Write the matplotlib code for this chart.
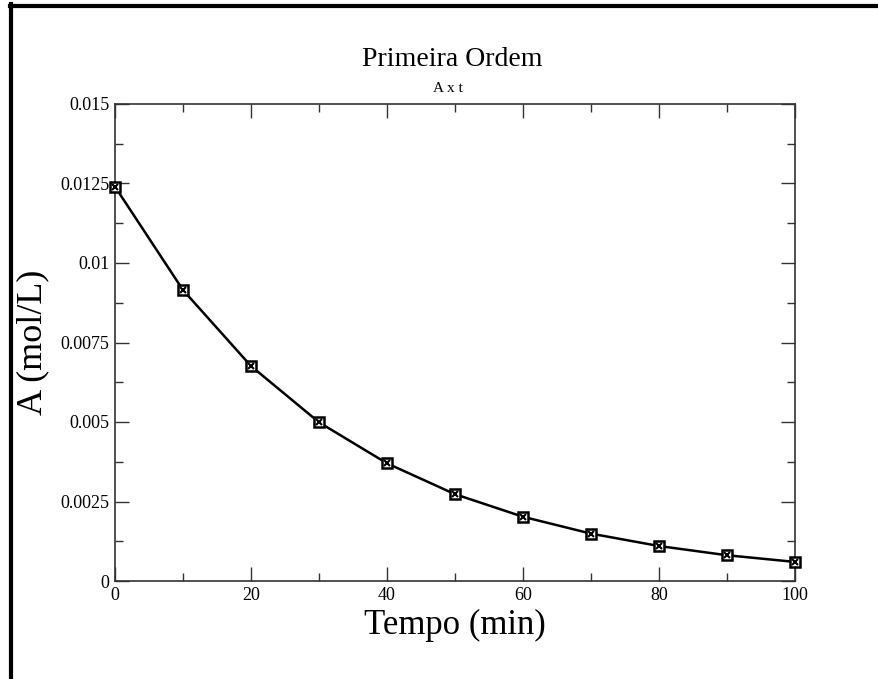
import matplotlib
matplotlib.use("Agg")
import matplotlib.pyplot as plt
from matplotlib.ticker import MultipleLocator, FixedFormatter, FixedLocator
from matplotlib.lines import Line2D

t = [0, 10, 20, 30, 40, 50, 60, 70, 80, 90, 100]
A = [0.01240, 0.00915, 0.00676, 0.00499, 0.00370, 0.00273, 0.00202, 0.00149, 0.00110, 0.00081, 0.00060]

xticks = [0, 20, 40, 60, 80, 100]
xticklabels = ["0", "20", "40", "60", "80", "100"]
yticks = [0, 0.0025, 0.005, 0.0075, 0.01, 0.0125, 0.015]
yticklabels = ["0", "0.0025", "0.005", "0.0075", "0.01", "0.0125", "0.015"]

plt.rcParams['font.family'] = ['Liberation Serif', 'DejaVu Serif']

fig = plt.figure(figsize=(8.79, 6.79), dpi=100)
ax = fig.add_axes([115/879, 1-581/679, 680/879, 477/679])

ax.plot(t, A, color='black', lw=1.8, zorder=2)
ax.plot(t, A, linestyle='none', marker='s', ms=7.5, mfc='white', mec='black', mew=1.8, zorder=3, clip_on=False)
ax.plot(t, A, linestyle='none', marker='x', ms=5, mec='black', mew=1.5, zorder=4, clip_on=False)

ax.set_xlim(0, 100)
ax.set_ylim(0, 0.015)
ax.xaxis.set_major_locator(FixedLocator(xticks))
ax.xaxis.set_major_formatter(FixedFormatter(xticklabels))
ax.yaxis.set_major_locator(FixedLocator(yticks))
ax.yaxis.set_major_formatter(FixedFormatter(yticklabels))
ax.xaxis.set_minor_locator(MultipleLocator(10))
ax.yaxis.set_minor_locator(MultipleLocator(0.00125))
ax.tick_params(which='both', direction='in', top=True, right=True, width=1, colors='#333333', labelcolor='black', labelsize=13)
ax.tick_params(which='major', length=10, pad=4)
ax.tick_params(which='minor', length=6)
for s in ax.spines.values():
    s.set_color('#333333')
    s.set_linewidth(1.2)

ax.set_xlabel("Tempo (min)", fontsize=25, labelpad=4)
ax.set_ylabel("A (mol/L)", fontsize=26, labelpad=8)
fig.text(452/879, 1-59/679, "Primeira Ordem", fontsize=20, ha='center', va='center')
fig.text(448/879, 1-89/679, "A x t", fontsize=11, ha='center', va='center')

# partial outer frame
fig.add_artist(Line2D([11.5/879, 11.5/879], [0, 1-4/679], transform=fig.transFigure, color='black', lw=3))
fig.add_artist(Line2D([10/879, 1], [1-5.5/679, 1-5.5/679], transform=fig.transFigure, color='black', lw=3))

fig.savefig("out.png", dpi=100)
